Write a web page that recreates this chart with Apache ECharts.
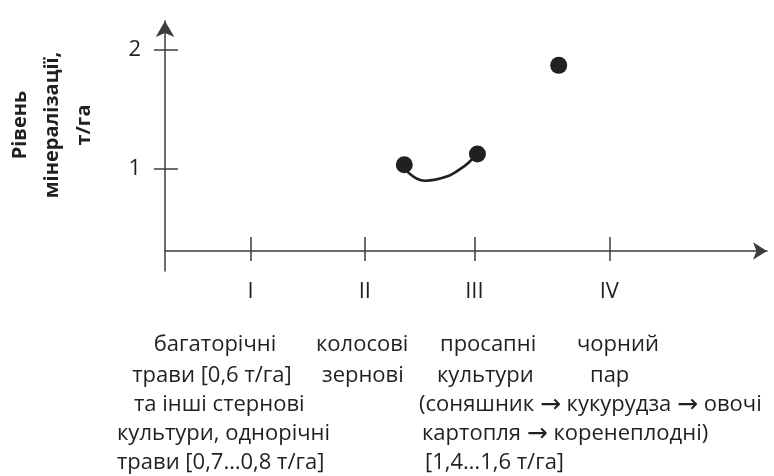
<!DOCTYPE html>
<html>
<head>
<meta charset="utf-8">
<script src="https://cdn.jsdelivr.net/npm/echarts@6/dist/echarts.min.js"></script>
<style>
  html, body { margin: 0; padding: 0; background: #fff; }
  #chart { width: 774px; height: 476px; }
</style>
</head>
<body>
<div id="chart"></div>
<script>
// Рівень мінералізації за групами культур
const groupLabels = ["I", "II", "III", "IV"];
const groupTickPos = [1.42, 3.32, 5.14, 7.38];
const yTicks = [1, 2];

const pointX = [3.975, 5.19, 6.54];
const pointY = [1.03, 1.12, 1.87];

// дуга між точками II–III
const curveX = [3.975, 4.05, 4.32, 4.68, 4.95, 5.09, 5.19];
const curveY = [1.03, 0.96, 0.895, 0.93, 1.01, 1.07, 1.12];

const yTitle = "Рівень\nмінералізації,\nт/га";
const groupNotes = [
  ["багаторічні", "трави [0,6 т/га]", "та інші стернові", "культури, однорічні", "трави [0,7…0,8 т/га]"],
  ["колосові", "зернові"],
  ["просапні", "культури", "(соняшник → кукурудза → овочі", "картопля → коренеплодні)", "[1,4…1,6 т/га]"],
  ["чорний", "пар"],
];

const INK = "#231f20";
const AXIS = "#3c3c3c";
const FONT = "'Open Sans', 'Noto Sans', sans-serif";

// розкладка підписів під віссю: [x, вирівнювання] для кожного рядка
const NOTE_ROW_Y = [345, 376, 405, 434, 463];
const NOTE_LAYOUT = [
  [[215, "center"], [212, "center"], [134, "left"], [117, "left"], [117, "left"]],
  [[316, "left"], [322, "left"]],
  [[440, "left"], [437, "left"], [419, "left"], [422, "left"], [425, "left"]],
  [[577, "left"], [590, "left"]],
];

const noteGraphics = [];
groupNotes.forEach((lines, g) => {
  lines.forEach((t, i) => {
    const [x, align] = NOTE_LAYOUT[g][i];
    noteGraphics.push({
      type: "text",
      x: x,
      y: NOTE_ROW_Y[i],
      style: {
        text: t.replace(/→/g, "{ar|→}"),
        fill: INK,
        fontSize: 22,
        fontFamily: FONT,
        align: align,
        verticalAlign: "middle",
        rich: { ar: { fontFamily: "'DejaVu Sans'", fontSize: 25, fill: INK } },
      },
    });
  });
});

const chart = echarts.init(document.getElementById("chart"), null, { renderer: "canvas" });

const hidden = { show: false };
const xRange = { type: "value", min: 0, max: 10, splitLine: hidden };
const yRange = { type: "value", min: 0.132, max: 2.245, splitLine: hidden };

chart.setOption({
  animation: false,
  backgroundColor: "#fff",
  grid: [
    { left: 165, right: 7, top: 21, bottom: 205 },
    { left: 165, right: 7, top: 21, bottom: 225 },
  ],
  xAxis: [
    { ...xRange, gridIndex: 0, position: "bottom", show: false },
    {
      ...xRange,
      gridIndex: 1,
      position: "bottom",
      axisLine: { onZero: false, lineStyle: { color: AXIS, width: 1.5 }, symbol: ["none", "arrow"], symbolSize: [13, 14] },
      axisTick: { customValues: groupTickPos, length: 10, lineStyle: { color: AXIS, width: 1.5 } },
      axisLabel: {
        customValues: groupTickPos,
        margin: 30,
        color: INK,
        fontSize: 22,
        fontFamily: FONT,
        formatter: (v) => {
          let k = 0;
          groupTickPos.forEach((p, i) => { if (Math.abs(p - v) < Math.abs(groupTickPos[k] - v)) k = i; });
          return groupLabels[k];
        },
      },
    },
    {
      ...xRange,
      gridIndex: 1,
      position: "bottom",
      offset: 0,
      axisLine: { show: false, onZero: false },
      axisTick: { customValues: groupTickPos, inside: true, length: 14, lineStyle: { color: AXIS, width: 1.5 } },
      axisLabel: hidden,
    },
  ],
  yAxis: [
    {
      ...yRange,
      gridIndex: 0,
      position: "left",
      axisLine: { show: true, onZero: false, lineStyle: { color: AXIS, width: 1.5 }, symbol: ["none", "arrow"], symbolSize: [14, 16] },
      axisTick: { show: true, customValues: yTicks, length: 11, lineStyle: { color: AXIS, width: 1.5 } },
      axisLabel: { customValues: yTicks, margin: 24, color: INK, fontSize: 22, fontFamily: FONT },
    },
    {
      ...yRange,
      gridIndex: 0,
      position: "left",
      offset: 0,
      axisLine: { show: false, onZero: false },
      axisTick: { show: true, customValues: yTicks, inside: true, length: 13, lineStyle: { color: AXIS, width: 1.5 } },
      axisLabel: hidden,
    },
    { type: "value", gridIndex: 1, min: 0, max: 1, show: false },
  ],
  graphic: [
    {
      type: "text",
      x: 52,
      y: 125,
      rotation: Math.PI / 2,
      style: {
        text: yTitle,
        fill: INK,
        font: "bold 20px " + FONT,
        lineHeight: 32,
        textAlign: "center",
        textVerticalAlign: "middle",
      },
    },
    ...noteGraphics,
  ],
  series: [
    {
      type: "line",
      xAxisIndex: 0,
      yAxisIndex: 0,
      data: curveX.map((x, i) => [x, curveY[i]]),
      smooth: 0.4,
      showSymbol: false,
      lineStyle: { color: INK, width: 2.6 },
      silent: true,
    },
    {
      type: "scatter",
      xAxisIndex: 0,
      yAxisIndex: 0,
      data: pointX.map((x, i) => [x, pointY[i]]),
      symbolSize: 17,
      itemStyle: { color: INK, opacity: 1 },
      z: 5,
    },
  ],
});
</script>
</body>
</html>
